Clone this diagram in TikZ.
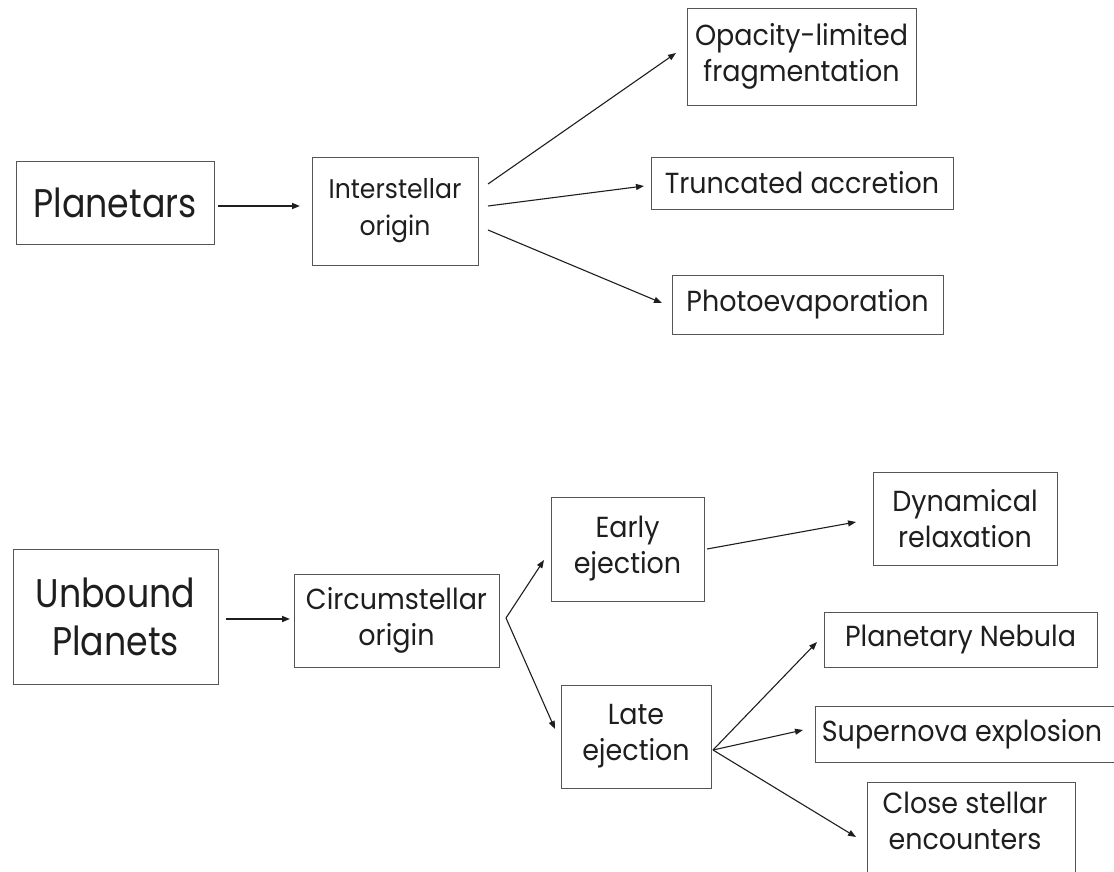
\documentclass[tikz,border=0pt]{standalone}
\usepackage{fontspec}
\setmainfont{Poppins}[FakeStretch=0.93]
\newfontfamily\bigfam{Poppins}[FakeStretch=0.87]
\usetikzlibrary{calc,arrows.meta}
\definecolor{boxline}{HTML}{555555}
\definecolor{ink}{HTML}{1E1E1E}
\tikzset{
  box/.style={draw=boxline, line width=0.9pt, inner sep=0pt, outer sep=0pt, align=center, text=ink},
  txt/.style={inner sep=0pt, outer sep=0pt, align=center, text=ink},
  big/.style={font=\bigfam\fontsize{40}{48}\selectfont},
  mid/.style={font=\fontsize{29}{36}\selectfont},
  sml/.style={font=\fontsize{27}{37}\selectfont},
  arr/.style={draw=ink, line width=1.1pt, -{Triangle[length=8pt,width=6pt]}},
  thickarr/.style={arr, line width=1.7pt},
}
\begin{document}
\begin{tikzpicture}[x=1pt,y=-1pt]
\useasboundingbox (0,0) rectangle (1114,872);
% top half
\node[box,big,minimum width=198pt,minimum height=83pt] (P) at (115,202.5) {Planetars};
\node[box,sml,minimum width=166pt,minimum height=108pt] (I) at (395,211) {Interstellar\\origin};
\node[box,mid,minimum width=229pt,minimum height=97pt] (O) at (801.5,56.5) {Opacity-limited\\fragmentation};
\node[box,mid,minimum width=302pt,minimum height=52pt] (T) at (802,183) {Truncated accretion};
\node[box,mid,minimum width=271pt,minimum height=59pt] (Ph) at (807.5,304.5) {Photoevaporation};
% bottom half
\node[box,big,minimum width=205pt,minimum height=135pt] (U) at (115.5,616.5) {Unbound\\Planets};
\node[box,mid,minimum width=205pt,minimum height=93pt] (C) at (396.5,620.5) {Circumstellar\\origin};
\node[box,mid,minimum width=153pt,minimum height=104pt] (E) at (627.5,549) {Early\\ejection};
\node[box,mid,minimum width=150pt,minimum height=103pt] (L) at (636,736.5) {Late\\ejection};
\node[box,mid,minimum width=184pt,minimum height=93pt] (D) at (965,518.5) {Dynamical\\relaxation};
\node[box,mid,minimum width=273pt,minimum height=55pt] (PN) at (960.5,639.5) {Planetary Nebula};
\node[box,mid,minimum width=305pt,minimum height=56pt] (SN) at (967.5,734) {};
\node[txt,mid] (SNt) at (962,734) {Supernova explosion};
\node[box,minimum width=208pt,minimum height=98pt] (CS) at (971,831) {};
\node[txt,mid] (CSt) at (965,821) {Close stellar\\encounters};
% connectors top
\draw[thickarr] ($(P.east)+(4,3.5)$) -- ($(I.west)+(-12,-5)$);
\draw[arr] ($(I.east)+(10,-27)$) -- ($(O.west)+(-11,-3.5)$);
\draw[arr] ($(I.east)+(10,-5)$) -- ($(T.west)+(-7,3)$);
\draw[arr] ($(I.east)+(10,19)$) -- ($(Ph.west)+(-10,-1.5)$);
% connectors bottom
\draw[thickarr] ($(U.east)+(8,2.5)$) -- ($(C.west)+(-4,-1.5)$);
\coordinate (cv) at ($(C.east)+(7,-2.5)$);
\draw[arr] (cv) -- ($(E.west)+(-7,11)$);
\draw[arr] (cv) -- ($(L.west)+(-6,-7.5)$);
\draw[arr] ($(E.east)+(3,0)$) -- ($(D.west)+(-17,3.5)$);
\coordinate (lv) at ($(L.east)+(2,13.5)$);
\draw[arr] (lv) -- ($(PN.west)+(-7,2.5)$);
\draw[arr] (lv) -- ($(SN.west)+(-12,-4)$);
\draw[arr] (lv) -- ($(CS.west)+(-11,6)$);
\end{tikzpicture}
\end{document}
